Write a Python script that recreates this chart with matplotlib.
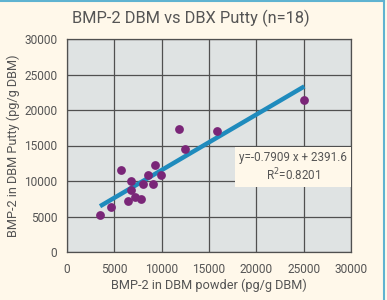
import matplotlib
matplotlib.use("Agg")
import matplotlib.pyplot as plt
import numpy as np
from matplotlib.lines import Line2D

plt.rcParams['font.family'] = ['Roboto', 'DejaVu Sans']

title = "BMP-2 DBM vs DBX Putty (n=18)"
xlabel = "BMP-2 in DBM powder (pg/g DBM)"
ylabel = "BMP-2 in DBM Putty (pg/g DBM)"
eq_text = "y=-0.7909 x + 2391.6\nR$^2$=0.8201"

dbm_powder = [3490, 4620, 5740, 6480, 6730, 6790, 7180, 7790, 8060, 8560,
              9050, 9260, 9930, 11800, 12430, 15810, 25070]
dbm_putty = [5200, 6360, 11500, 7120, 8720, 9960, 7720, 7410, 9580, 10910,
             9580, 12300, 10780, 17360, 14450, 17100, 21360]

ticks = [0, 5000, 10000, 15000, 20000, 25000, 30000]

bg = "#fff8ea"
text_col = "#555555"

fig = plt.figure(figsize=(3.87, 3.0), dpi=100, facecolor=bg)
ax = fig.add_axes([0.1731, 0.16, 0.7339, 0.71])
ax.set_facecolor("#dfe3e3")

ax.set_xlim(0, 30000)
ax.set_ylim(0, 30000)
ax.set_xticks(ticks)
ax.set_yticks(ticks)
ax.grid(True, color="#505050", linewidth=0.9)
ax.set_axisbelow(True)
for s in ax.spines.values():
    s.set_color("#505050")
    s.set_linewidth(0.9)
ax.tick_params(length=0, labelsize=8.6, colors=text_col)
ax.tick_params(axis='x', pad=8)
ax.tick_params(axis='y', pad=7)

x = np.array(dbm_powder, dtype=float)
y = np.array(dbm_putty, dtype=float)
m, b = np.polyfit(x, y, 1)
xl = np.array([x.min(), x.max()])
ax.plot(xl, m * xl + b, color="#1f8bbd", linewidth=3.2, solid_capstyle='butt', zorder=3)
ax.scatter(x, y, s=40, color="#7a2678", zorder=4, linewidths=0)

ax.text(0.796, 0.40, eq_text, transform=ax.transAxes, ha='center', va='center',
        fontsize=8.4, color=text_col, linespacing=1.2, zorder=5,
        bbox=dict(boxstyle='square,pad=0.35', facecolor=bg, edgecolor='none'))

ax.set_xlabel(xlabel, fontsize=9.2, color=text_col, labelpad=2)
ax.set_ylabel(ylabel, fontsize=9.2, color=text_col, labelpad=3)
fig.text(0.493, 0.94, title, ha='center', va='center', fontsize=11.8, color=text_col)

# blue frame lines at top and right
fig.add_artist(Line2D([0, 0.992], [0.996, 0.996], transform=fig.transFigure, color="#5fb3d1", linewidth=1.5))
fig.add_artist(Line2D([0.992, 0.992], [0, 0.996], transform=fig.transFigure, color="#5fb3d1", linewidth=1.5))

fig.savefig("out.png", dpi=100, facecolor=bg)
